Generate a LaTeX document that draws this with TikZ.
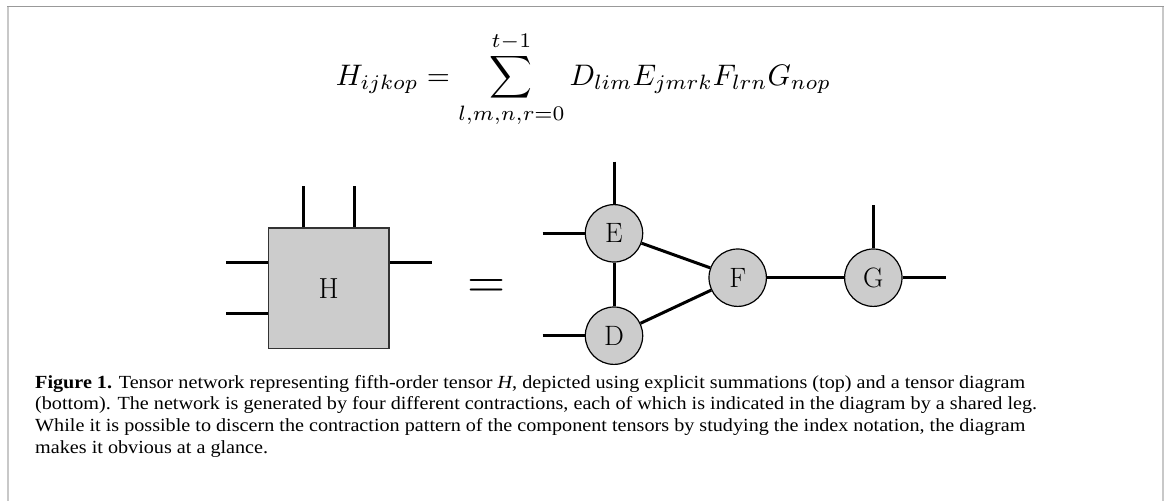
\documentclass[tikz,border=0pt]{standalone}
\usepackage{fontspec}
\newfontfamily\capfont[FakeStretch=1.09]{Liberation Serif}
\usepackage{graphicx}
\definecolor{tgray}{HTML}{CCCCCC}
\definecolor{frametop}{HTML}{999999}
\definecolor{frameside}{HTML}{C8C8C8}
\definecolor{boxline}{HTML}{333333}
\begin{document}
\begin{tikzpicture}[x=1pt,y=-1pt,
  tensor/.style={circle,draw=black,line width=1.2pt,fill=tgray,minimum size=57.4pt,inner sep=0pt,font=\fontsize{28}{30}\selectfont},
  bigtensor/.style={rectangle,draw=boxline,line width=1.4pt,fill=tgray,minimum size=120.7pt,inner sep=0pt,font=\fontsize{29}{32}\selectfont},
  leg/.style={line width=3pt},
  capline/.style={anchor=base west,inner sep=0pt,font=\capfont\fontsize{18.5}{21.7}\selectfont}]
\useasboundingbox (0,0) rectangle (1167,501);
% frame
\draw[frameside,line width=1.8pt] (8.2,6) -- (8.2,501);
\draw[frameside,line width=1.8pt] (1163.3,6) -- (1163.3,501);
\draw[frametop,line width=1.2pt] (7.3,6.2) -- (1164.2,6.2);
% equation
\node[anchor=base,inner sep=0pt] (eq) at (583.5,85) {\scalebox{2.97}{$\displaystyle H_{ijkop} = \sum_{l,m,n,r=0}^{t-1} D_{lim}E_{jmrk}F_{lrn}G_{nop}$}};
% big tensor H
\node[bigtensor] (H) at (328.7,288.3) {H};
\coordinate (ht1) at (303.3,186);
\coordinate (ht2) at (354.3,186);
\coordinate (hl1) at (226,262.3);
\coordinate (hl2) at (226,313.3);
\coordinate (hr1) at (431.7,262.3);
\draw[leg] (ht1) -- (ht1 |- H.north);
\draw[leg] (ht2) -- (ht2 |- H.north);
\draw[leg] (hl1) -- (hl1 -| H.west);
\draw[leg] (hl2) -- (hl2 -| H.west);
\draw[leg] (hr1) -- (hr1 -| H.east);
% equals
\node[anchor=base,inner sep=0pt] (eqsign) at (486.3,297) {\scalebox{4.9}{$=$}};
% network
\node[tensor] (E) at (614,233.3) {E};
\node[tensor] (D) at (614,335.7) {D};
\node[tensor] (F) at (737.7,277.7) {F};
\node[tensor] (G) at (873.3,277.7) {G};
\coordinate (et) at (614,161.7);
\coordinate (el) at (542.7,233.3);
\coordinate (dl) at (542.7,335.7);
\coordinate (gt) at (873.3,205);
\coordinate (gr) at (946,277.7);
\draw[leg] (et) -- (E);
\draw[leg] (el) -- (E);
\draw[leg] (dl) -- (D);
\draw[leg] (gt) -- (G);
\draw[leg] (gr) -- (G);
\draw[leg] (E) -- (F);
\draw[leg] (D) -- (F);
\draw[leg] (E) -- (D);
\draw[leg] (F) -- (G);
% caption
\node[capline] (cap1) at (35,388) {\textbf{Figure 1.} Tensor network representing fifth-order tensor \textit{H}, depicted using explicit summations (top) and a tensor diagram};
\node[capline] (cap2) at (35,409.7) {(bottom). The network is generated by four different contractions, each of which is indicated in the diagram by a shared leg.};
\node[capline] (cap3) at (35,431.3) {While it is possible to discern the contraction pattern of the component tensors by studying the index notation, the diagram};
\node[capline] (cap4) at (35,453) {makes it obvious at a glance.};
\end{tikzpicture}
\end{document}
